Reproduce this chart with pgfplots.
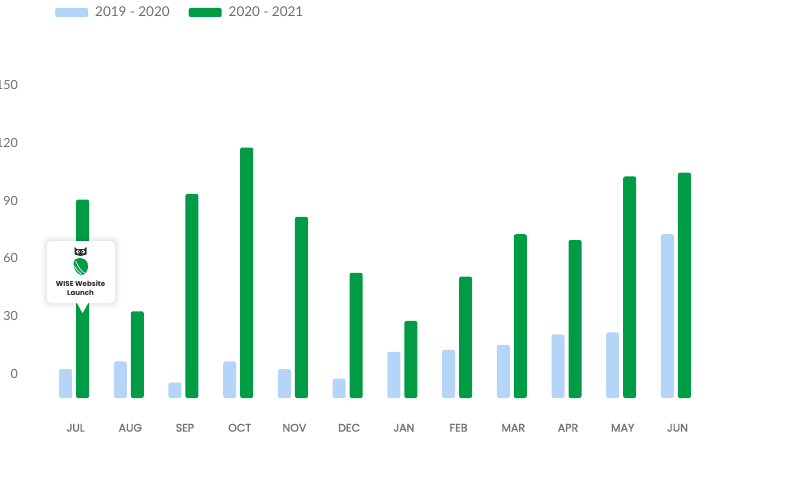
\documentclass[border=0pt]{standalone}
\usepackage{pgfplots}
\pgfplotsset{compat=1.18}
\usepackage{fontspec}
\setmainfont{Lato}
\newfontfamily\popfont{Poppins}
\newfontfamily\popmed{Poppins}[FakeBold=1.2]
\definecolor{lightbar}{HTML}{B4D5F8}
\definecolor{greenbar}{HTML}{009B45}
\definecolor{ticktext}{HTML}{6E6E6E}
\definecolor{monthtext}{HTML}{727272}
\definecolor{tiptext}{HTML}{2E2E2E}
\begin{document}
\begin{tikzpicture}
\useasboundingbox (0,0) rectangle (800pt,480pt);
\begin{axis}[
  at={(46.7pt,82pt)}, anchor=south west,
  scale only axis, width=656.6pt, height=289pt,
  ybar=4pt, bar width=13pt,
  xmin=-0.5, xmax=11.5, ymin=0, ymax=150,
  xtick={0,1,2,3,4,5,6,7,8,9,10,11},
  xticklabels={JUL,AUG,SEP,OCT,NOV,DEC,JAN,FEB,MAR,APR,MAY,JUN},
  ytick={0,30,60,90,120,150},
  axis line style={draw=none}, tick style={draw=none},
  /pgf/number format/assume math mode=true,
  yticklabel style={font=\fontsize{12.5}{14}\selectfont, text=ticktext, anchor=east, inner sep=0pt, xshift=-28.7pt, yshift=24pt},
  xticklabel style={font=\popmed\fontsize{11}{13}\selectfont, text=monthtext, anchor=center, inner sep=0pt, yshift=-25.5pt, xshift=1.5pt},
  legend columns=2,
  legend image code/.code={\fill[#1, draw=none, rounded corners=2pt] (0pt,-4.5pt) rectangle (33pt,4.5pt);},
  legend style={at={(0.0126,1.334)}, anchor=west, draw=none, fill=none, inner sep=0pt,
    font=\fontsize{13.5}{15}\selectfont, text=ticktext, nodes={inner sep=0pt},
    /tikz/every odd column/.append style={column sep=7pt},
    /tikz/every even column/.append style={column sep=19pt}},
  clip=false,
]
\addplot[fill=lightbar, draw=none, rounded corners=2pt] coordinates {
(0,15) (1,19) (2,8) (3,19) (4,15) (5,10) (6,24) (7,25) (8,27.5) (9,33) (10,34) (11,85)};
\addlegendentry{2019 - 2020}
\addplot[fill=greenbar, draw=none, rounded corners=2pt] coordinates {
(0,103) (1,45) (2,106) (3,130) (4,94) (5,65) (6,40) (7,63) (8,85) (9,82) (10,115) (11,117)};
\addlegendentry{2020 - 2021}
\coordinate (tip) at (axis cs:0,44.1);
\end{axis}
\begin{scope}[shift={(tip)}, xshift=8.5pt]
  \foreach \d/\o in {6/0.008,5/0.01,4/0.012,3/0.014,2/0.016,1/0.018}{
    \fill[black, opacity=\o, rounded corners=7pt] (-35.8pt-\d pt,10pt-\d pt) rectangle (32.5pt+\d pt,72pt+\d pt);
  }
  \fill[white, rounded corners=5pt] (-35.8pt,10pt) rectangle (32.5pt,72pt);
  \fill[white] (-6pt,10.5pt) -- (0pt,0pt) -- (6pt,10.5pt) -- cycle;
  \node[font=\popfont\fontsize{7.1}{9.4}\selectfont\bfseries, text=tiptext, align=center, inner sep=0pt] at (-2pt,25pt) {WISE Website\\Launch};
  % owl head
  \fill[black!80] (-8pt,58.5pt) -- (-8pt,66pt) -- (-5.5pt,64pt) -- (1.5pt,64pt) -- (4pt,66pt) -- (4pt,58.5pt) -- (-2pt,57pt) -- cycle;
  \fill[white] (-4.6pt,61.3pt) circle (1.9pt);
  \fill[white] (0.6pt,61.3pt) circle (1.9pt);
  \fill[black!80] (-4.2pt,61.3pt) circle (0.8pt);
  \fill[black!80] (0.2pt,61.3pt) circle (0.8pt);
  % green wing
  \fill[greenbar] (-9pt,50pt) .. controls (-8pt,57pt) and (2pt,57pt) .. (5pt,50pt) .. controls (7pt,44pt) and (3pt,38pt) .. (-1pt,38pt) .. controls (-6pt,39pt) and (-9pt,44pt) .. cycle;
  \draw[white, line width=0.7pt] (-7pt,52pt) .. controls (-4pt,46pt) and (-2pt,42pt) .. (2pt,40pt);
  \draw[white, line width=0.7pt] (-8pt,47pt) .. controls (-6pt,43pt) and (-4pt,41pt) .. (-1pt,39pt);
\end{scope}
\end{tikzpicture}
\end{document}
